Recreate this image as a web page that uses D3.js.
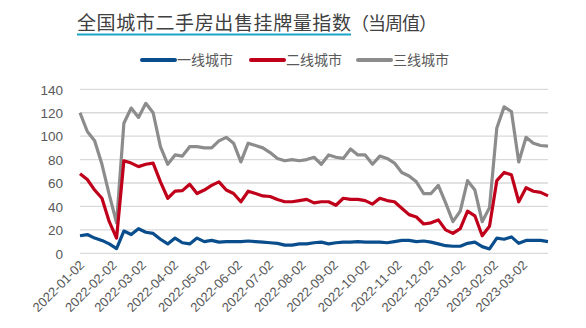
<!DOCTYPE html>
<html><head><meta charset="utf-8">
<script src="https://cdn.jsdelivr.net/npm/d3@7"></script>
<style>
html,body{margin:0;padding:0;background:#fff;}
svg{display:block;}
</style></head>
<body>
<svg id="chart" width="586" height="328"></svg>
<script>
const dates = [
"2022-01-02","2022-01-09","2022-01-16","2022-01-23","2022-01-30",
"2022-02-06","2022-02-13","2022-02-20","2022-02-27",
"2022-03-06","2022-03-13","2022-03-20","2022-03-27",
"2022-04-03","2022-04-10","2022-04-17","2022-04-24",
"2022-05-01","2022-05-08","2022-05-15","2022-05-22","2022-05-29",
"2022-06-05","2022-06-12","2022-06-19","2022-06-26",
"2022-07-03","2022-07-10","2022-07-17","2022-07-24","2022-07-31",
"2022-08-07","2022-08-14","2022-08-21","2022-08-28",
"2022-09-04","2022-09-11","2022-09-18","2022-09-25",
"2022-10-02","2022-10-09","2022-10-16","2022-10-23","2022-10-30",
"2022-11-06","2022-11-13","2022-11-20","2022-11-27",
"2022-12-04","2022-12-11","2022-12-18","2022-12-25",
"2023-01-01","2023-01-08","2023-01-15","2023-01-22","2023-01-29",
"2023-02-05","2023-02-12","2023-02-19","2023-02-26",
"2023-03-05","2023-03-12","2023-03-19","2023-03-26"];

const tier1 = [15,16,13,11,8,4,19,16,21,18,17,12,8,13,
 9,8,13,10,11,9.5,10,10,10,10.5,10,9.5,
 9,8.5,7,7,8,8,9,9.5,8,9,9.5,9.5,10,
 9.5,9.5,9.5,9,10,11,11,10,10.5,9.5,8,6.5,6,
 6,8.5,9.5,5.7,3.7,13,12,14,8.5,11,11,11,10];

const tier2 = [68,63,54,47,27,13,79,77,74,76,77,61,47,53,
 53.5,59,51,54,58,61,54,51,44,53,51,49,
 48.5,46,44,44,45,46,43,44,44,41,47,46,46,
 45,42,47,45,44,38.5,33,31,25,26,28.5,20,17,
 21,36,32,15,23,62,69,67,44,56,53,52,49];

const tier3 = [120,104,96,76,50,26,111,124,116,128,120,91,76,84,
 83,91,91,90,90,96,99,94,78,94,92,90,
 86,81,79,80,79,80,82,76,84,82,81,89,84,
 84,76,83,81,77,69,66,61,51,51,58,43,27,
 36,62,54,27,39,107,125,121,78,99,94,92,91.5];

const seriesNames = ["一线城市","二线城市","三线城市"];
const seriesColors = ["#0a4d8c","#c0001a","#8c8c8c"];
const yTicks = [0,20,40,60,80,100,120,140];
const xTickLabels = ["2022-01-02","2022-02-02","2022-03-02","2022-04-02","2022-05-02","2022-06-02",
 "2022-07-02","2022-08-02","2022-09-02","2022-10-02","2022-11-02","2022-12-02",
 "2023-01-02","2023-02-02","2023-03-02"];
const titleMain = "全国城市二手房出售挂牌量指数";
const titleSub = "（当周值）";

const parse = d3.timeParse("%Y-%m-%d");
const fmt = d3.timeFormat("%Y-%m-%d");
const svg = d3.select("#chart");

const x = d3.scaleTime()
  .domain([parse(dates[0]), parse(dates[dates.length-1])])
  .range([80, 548]);
const y = d3.scaleLinear().domain([0,140]).range([253.3, 89.3]);

// gridlines
svg.append("g").selectAll("line").data(yTicks).join("line")
  .attr("x1",80).attr("x2",548)
  .attr("y1",d=>y(d)).attr("y2",d=>y(d))
  .attr("stroke","#d9d9d9").attr("stroke-width",1.3);

// y axis labels
const yAxis = d3.axisLeft(y).tickValues(yTicks).tickSize(0).tickPadding(0);
const gy = svg.append("g").attr("transform","translate(63,0)").call(yAxis);
gy.select(".domain").remove();
gy.selectAll("text").attr("font-family","Liberation Sans, Arial, sans-serif")
  .attr("font-size","13.5px").attr("fill","#595959").attr("dy","0.35em");

// x axis
const xAxis = d3.axisBottom(x).tickValues(xTickLabels.map(parse)).tickFormat(fmt).tickSize(0).tickPadding(0);
const gx = svg.append("g").attr("transform","translate(0,264)").call(xAxis);
gx.select(".domain").remove();
gx.selectAll("text")
  .attr("font-family","Liberation Sans, Arial, sans-serif")
  .attr("font-size","13px").attr("fill","#595959")
  .attr("text-anchor","end")
  .attr("dy","0.35em").attr("y",0).attr("x",2)
  .attr("transform","rotate(-45)");

// lines
const allSeries = [tier1, tier2, tier3];
const line = d3.line().x((d,i)=>x(parse(dates[i]))).y(d=>y(d));
[2,1,0].forEach(k=>{
  svg.append("path").datum(allSeries[k])
    .attr("d",line).attr("fill","none")
    .attr("stroke",seriesColors[k]).attr("stroke-width",3.2)
    .attr("stroke-linejoin","round");
});

// title
const cjk = "Noto Sans CJK SC, sans-serif";
svg.append("text").attr("x",77).attr("y",30).text(titleMain)
  .attr("font-family",cjk).attr("font-size","19px").attr("fill","#404040")
  .attr("textLength",274).attr("lengthAdjust","spacing");
svg.append("text").attr("x",351).attr("y",30).text(titleSub)
  .attr("font-family",cjk).attr("font-size","18px").attr("fill","#404040")
  .attr("textLength",86).attr("lengthAdjust","spacing");
svg.append("line").attr("x1",77).attr("x2",351).attr("y1",34.5).attr("y2",34.5)
  .attr("stroke","#1ba5c9").attr("stroke-width",2);

// legend
const legX = [142, 251, 358];
const lg = svg.append("g");
seriesNames.forEach((n,k)=>{
  lg.append("line").attr("x1",legX[k]).attr("x2",legX[k]+33).attr("y1",60).attr("y2",60)
    .attr("stroke",seriesColors[k]).attr("stroke-width",4).attr("stroke-linecap","round");
  lg.append("text").attr("x",legX[k]+35).attr("y",60).attr("dy","0.35em").text(n)
    .attr("font-family",cjk).attr("font-size","14px").attr("fill","#595959");
});
</script>
</body></html>
